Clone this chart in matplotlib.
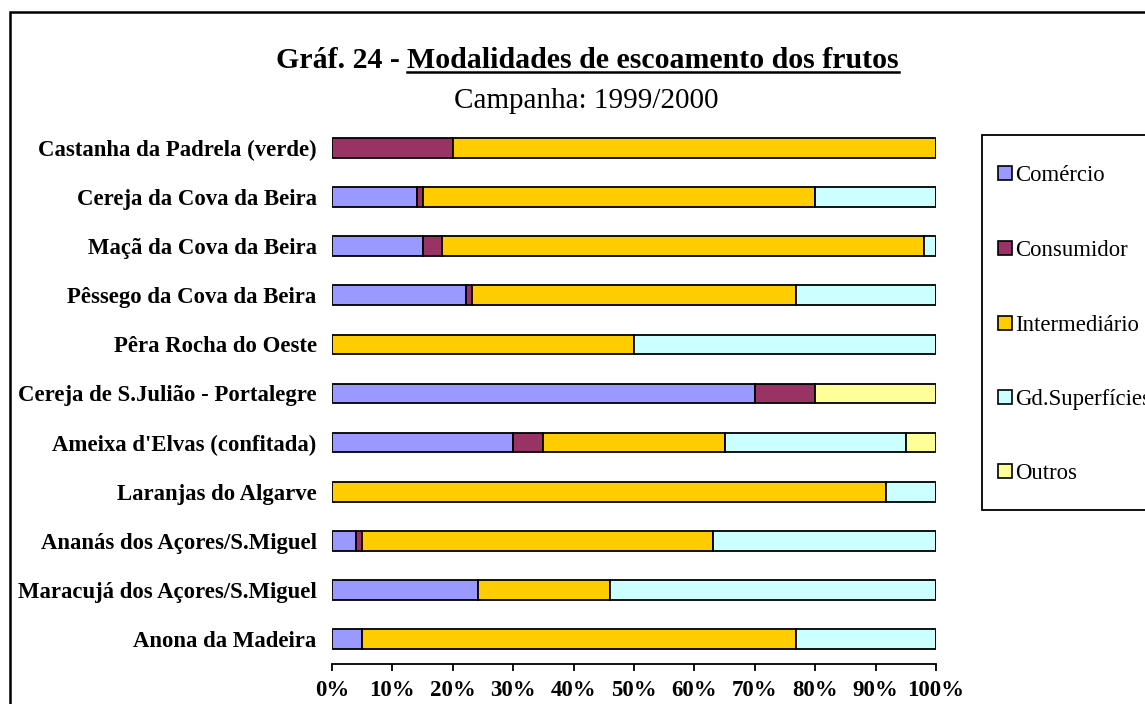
import matplotlib
matplotlib.use("Agg")
import matplotlib.pyplot as plt
from matplotlib.patches import Rectangle
from matplotlib.lines import Line2D
import numpy as np

categories = [
    "Castanha da Padrela (verde)",
    "Cereja da Cova da Beira",
    "Maçã da Cova da Beira",
    "Pêssego da Cova da Beira",
    "Pêra Rocha do Oeste",
    "Cereja de S.Julião - Portalegre",
    "Ameixa d'Elvas (confitada)",
    "Laranjas do Algarve",
    "Ananás dos Açores/S.Miguel",
    "Maracujá dos Açores/S.Miguel",
    "Anona da Madeira",
]
series_names = ["Comércio", "Consumidor", "Intermediário", "Gd.Superfícies", "Outros"]
comercio = [0, 14, 15, 22.2, 0, 70, 30, 0, 4, 24.1, 5]
consumidor = [20, 1, 3.2, 1, 0, 10, 5, 0, 1, 0, 0]
intermediario = [80, 65, 79.8, 53.6, 50, 0, 30, 91.8, 58, 21.9, 71.8]
gd_superficies = [0, 20, 2, 23.2, 50, 0, 30, 8.2, 37, 54, 23.2]
outros = [0, 0, 0, 0, 0, 20, 5, 0, 0, 0, 0]
colors = ["#9999FF", "#993366", "#FFCC00", "#CCFFFF", "#FFFF99"]
xticks = [0, 10, 20, 30, 40, 50, 60, 70, 80, 90, 100]

W, H = 1145, 704
fig = plt.figure(figsize=(W / 100, H / 100), dpi=100)
serif = ["Liberation Serif", "DejaVu Serif"]

def fx(px):
    return px / W

def fy(py):
    return 1 - py / H

ax = fig.add_axes([fx(332), fy(663.5), fx(936) - fx(332), fy(123.5) - fy(663.5)])

series = [comercio, consumidor, intermediario, gd_superficies, outros]
ypos = np.arange(len(categories))
left = np.zeros(len(categories))
for name, vals, c in zip(series_names, series, colors):
    v = np.array(vals, dtype=float)
    ax.barh(ypos, v, left=left, height=0.4, color=c, edgecolor="black",
            linewidth=1.3, label=name)
    left += v

ax.set_xlim(0, 100)
ax.set_ylim(len(categories) - 0.5, -0.5)
ax.set_yticks(ypos)
ax.set_yticklabels(categories, fontfamily=serif, fontweight="bold", fontsize=16.4)
ax.tick_params(axis="y", length=0, pad=11)
ax.set_xticks(xticks)
ax.set_xticklabels([f"{t}%" for t in xticks], fontfamily=serif, fontweight="bold", fontsize=16.5)
ax.tick_params(axis="x", direction="out", length=5, width=1.3, pad=7)
for s in ["top", "left", "right"]:
    ax.spines[s].set_visible(False)
ax.spines["bottom"].set_linewidth(1.3)

# outer frame
fig.patches.append(Rectangle((fx(10), -0.2), 1.5, fy(12) + 0.2, transform=fig.transFigure,
                             fill=False, edgecolor="black", linewidth=1.8, clip_on=False))

# legend (frame, swatches and labels placed to match the original layout)
fig.patches.append(Rectangle((fx(982), fy(510)), 1.0, fy(135) - fy(510),
                             transform=fig.transFigure, facecolor="white",
                             edgecolor="black", linewidth=1.3, clip_on=False))
leg_y = [173, 248, 323, 397, 471]
for name, c, yy in zip(series_names, colors, leg_y):
    fig.patches.append(Rectangle((fx(998), fy(yy + 7)), fx(14), fy(yy - 7) - fy(yy + 7),
                                 transform=fig.transFigure, facecolor=c,
                                 edgecolor="black", linewidth=1.2))
    fig.text(fx(1015), fy(yy), name, fontfamily=serif, fontsize=16.4,
             ha="left", va="center_baseline")

# title
fig.canvas.draw()
r = fig.canvas.get_renderer()
t1 = fig.text(0, fy(68), "Gráf. 24 - ", fontfamily=serif, fontweight="bold", fontsize=21.5,
              ha="left", va="baseline")
t2 = fig.text(0, fy(68), "Modalidades de escoamento dos frutos", fontfamily=serif,
              fontweight="bold", fontsize=21.5, ha="left", va="baseline")
w1 = t1.get_window_extent(r).width
w2 = t2.get_window_extent(r).width
x0 = 587 - (w1 + w2) / 2
t1.set_x(fx(x0))
t2.set_x(fx(x0 + w1))
fig.lines.append(Line2D([fx(x0 + w1), fx(x0 + w1 + w2)], [fy(72), fy(72)],
                        transform=fig.transFigure, color="black", linewidth=1.8))
fig.text(fx(586), fy(108), "Campanha: 1999/2000", fontfamily=serif, fontsize=21,
         ha="center", va="baseline")

fig.savefig("out.png", dpi=100)
